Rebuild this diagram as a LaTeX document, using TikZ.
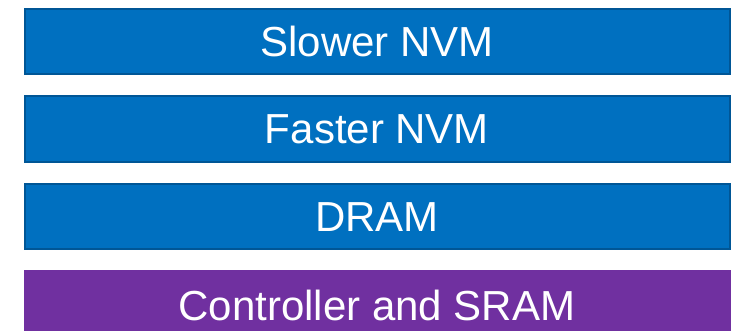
\documentclass[tikz,border=0pt]{standalone}
\usepackage{fontspec}
\setmainfont{Liberation Sans}
\definecolor{layerblue}{RGB}{0,112,192}
\definecolor{layeredge}{RGB}{0,86,150}
\definecolor{layerpurple}{RGB}{112,48,160}
\begin{document}
\begin{tikzpicture}[x=1pt,y=-1pt,
  layer/.style={rectangle, inner sep=0pt, text=white,
    font=\fontsize{42}{49}\selectfont, text height=30pt, text depth=0pt,
    minimum width=705pt},
  bluelayer/.style={layer, fill=layerblue, draw=layeredge, line width=2pt},
  purplelayer/.style={layer, fill=layerpurple, minimum width=707pt}]
\useasboundingbox (0,0) rectangle (731,331);
\clip (0,0) rectangle (731,331);
\node[bluelayer, minimum height=65.5pt] (slow) at (377,41.75) {Slower NVM};
\node[bluelayer, minimum height=66pt] (fast) at (377,129) {Faster NVM};
\node[bluelayer, minimum height=65.5pt] (dram) at (377,216.75) {DRAM};
\node[purplelayer, minimum height=70pt] (ctrl) at (377,305) {Controller and SRAM};
\end{tikzpicture}
\end{document}
